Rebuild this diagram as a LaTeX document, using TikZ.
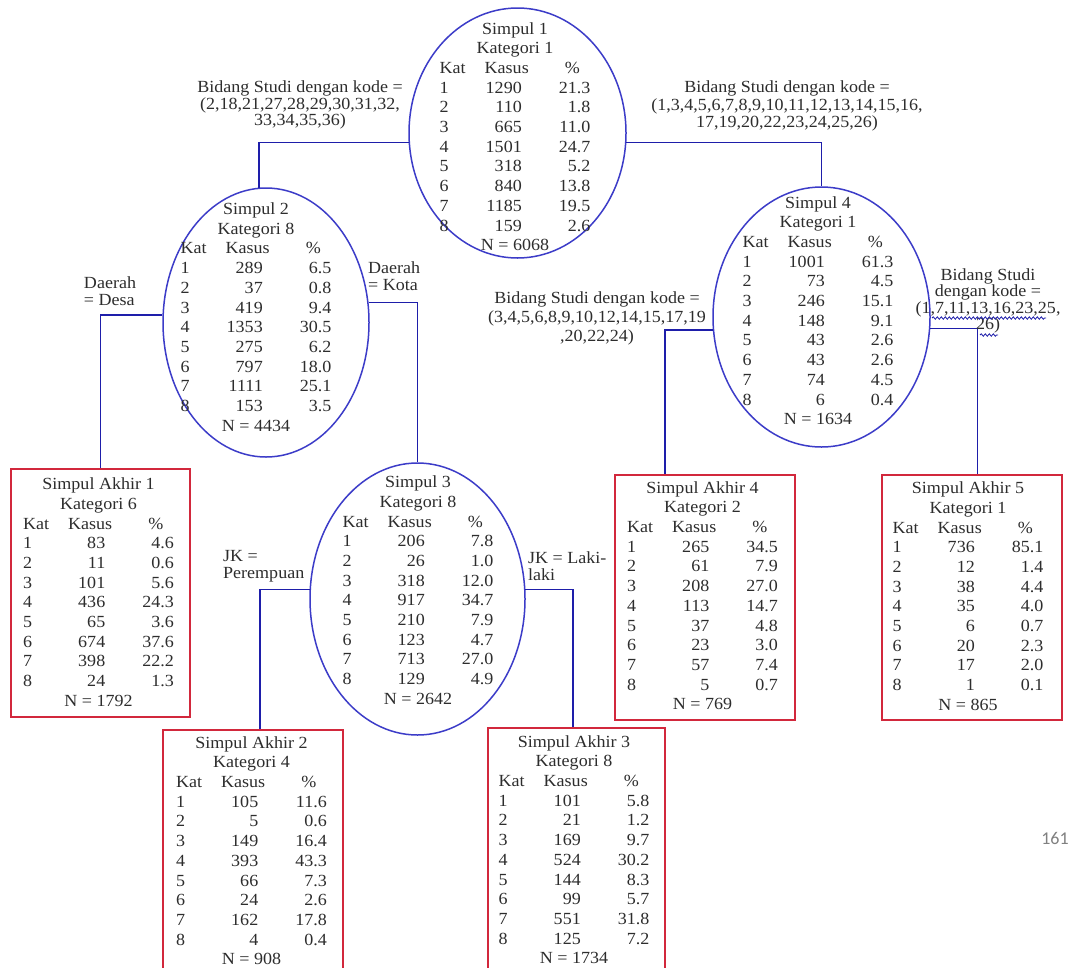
\documentclass[tikz,border=0pt]{standalone}
\usepackage{fontspec}
\setmainfont{Liberation Serif}[FakeStretch=1.06]
\newfontfamily\pgnumfont{Carlito}
\usetikzlibrary{calc,shapes.geometric,decorations.pathmorphing}
\definecolor{ellblue}{RGB}{60,60,200}
\definecolor{lnblue}{RGB}{30,30,170}
\definecolor{boxred}{RGB}{210,40,60}
\definecolor{txt}{RGB}{45,45,45}
\newcommand{\stab}[4]{%
\begin{tabular}{@{}l@{\hspace{13pt}}r@{\hspace{37pt}}r@{}}
\multicolumn{3}{c}{#1}\\
\multicolumn{3}{c}{#2}\\
Kat & \multicolumn{1}{l@{\hspace{30pt}}}{Kasus} & \multicolumn{1}{l@{}}{\%}\\
#3
\multicolumn{3}{c}{N = #4}
\end{tabular}}
\begin{document}
\begin{tikzpicture}[x=1pt,y=-1pt,
  ell/.style={ellipse, draw=ellblue, line width=1.5pt, inner sep=0pt},
  leaf/.style={rectangle, draw=boxred, line width=1.6pt, inner sep=0pt},
  tbl/.style={font=\fontsize{17}{19.7}\selectfont, text=txt, inner sep=0pt},
  lbl/.style={font=\fontsize{17}{16.5}\selectfont, text=txt, inner sep=0pt, align=center},
  conn/.style={draw=lnblue, line width=1.7pt},
  squig/.style={lnblue, line width=0.8pt, decorate, decoration={snake, amplitude=1.2pt, segment length=4pt}}]
\useasboundingbox (0,0) rectangle (1086,967);
\clip (0,0) rectangle (1086,967);
\fill[white] (0,0) rectangle (1086,967);

% ellipses
\node[ell, minimum width=217, minimum height=250] (s1) at (517.5,133) {};
\node[ell, minimum width=206, minimum height=269] (s2) at (266,322.5) {};
\node[ell, minimum width=215, minimum height=272] (s3) at (417.5,599) {};
\node[ell, minimum width=217, minimum height=260] (s4) at (821.5,317) {};
% leaf boxes
\node[leaf, minimum width=179, minimum height=248] (a1) at (100.5,593) {};
\node[leaf, minimum width=180, minimum height=252] (a2) at (253,856) {};
\node[leaf, minimum width=177, minimum height=254] (a3) at (576.5,855) {};
\node[leaf, minimum width=180, minimum height=245] (a4) at (705,597.5) {};
\node[leaf, minimum width=180, minimum height=245] (a5) at (972,597.5) {};

% tables
\node[tbl] (t1) at (515,138.5) {\stab{Simpul 1}{Kategori 1}{1&1290&21.3\\2&110&1.8\\3&665&11.0\\4&1501&24.7\\5&318&5.2\\6&840&13.8\\7&1185&19.5\\8&159&2.6\\}{6068}};
\node[tbl] (t2) at (256,319) {\stab{Simpul 2}{Kategori 8}{1&289&6.5\\2&37&0.8\\3&419&9.4\\4&1353&30.5\\5&275&6.2\\6&797&18.0\\7&1111&25.1\\8&153&3.5\\}{4434}};
\node[tbl] (t3) at (418,592) {\stab{Simpul 3}{Kategori 8}{1&206&7.8\\2&26&1.0\\3&318&12.0\\4&917&34.7\\5&210&7.9\\6&123&4.7\\7&713&27.0\\8&129&4.9\\}{2642}};
\node[tbl] (t4) at (818,312.5) {\stab{Simpul 4}{Kategori 1}{1&1001&61.3\\2&73&4.5\\3&246&15.1\\4&148&9.1\\5&43&2.6\\6&43&2.6\\7&74&4.5\\8&6&0.4\\}{1634}};
\node[tbl] (ta1) at (98.5,594) {\stab{Simpul Akhir 1}{Kategori 6}{1&83&4.6\\2&11&0.6\\3&101&5.6\\4&436&24.3\\5&65&3.6\\6&674&37.6\\7&398&22.2\\8&24&1.3\\}{1792}};
\node[tbl] (ta2) at (251.5,852.5) {\stab{Simpul Akhir 2}{Kategori 4}{1&105&11.6\\2&5&0.6\\3&149&16.4\\4&393&43.3\\5&66&7.3\\6&24&2.6\\7&162&17.8\\8&4&0.4\\}{908}};
\node[tbl] (ta3) at (574,851.5) {\stab{Simpul Akhir 3}{Kategori 8}{1&101&5.8\\2&21&1.2\\3&169&9.7\\4&524&30.2\\5&144&8.3\\6&99&5.7\\7&551&31.8\\8&125&7.2\\}{1734}};
\node[tbl] (ta4) at (702.5,597.5) {\stab{Simpul Akhir 4}{Kategori 2}{1&265&34.5\\2&61&7.9\\3&208&27.0\\4&113&14.7\\5&37&4.8\\6&23&3.0\\7&57&7.4\\8&5&0.7\\}{769}};
\node[tbl] (ta5) at (968,598) {\stab{Simpul Akhir 5}{Kategori 1}{1&736&85.1\\2&12&1.4\\3&38&4.4\\4&35&4.0\\5&6&0.7\\6&20&2.3\\7&17&2.0\\8&1&0.1\\}{865}};

% connectors
\draw[conn] (s1.185) -| (s2.93);
\draw[conn] (s1.355) -| (s4.north);
\draw[conn] (s2.176) -| (a1.north);
\draw[conn] (s2.11) -| (s3.north);
\draw[conn] (s3.175) -| ($(a2.north west)!0.54!(a2.north east)$);
\draw[conn] (s3.5) -| ($(a3.north west)!0.48!(a3.north east)$);
\draw[conn] (s4.187) -| ($(a4.north west)!0.28!(a4.north east)$);
\draw[conn] (s4.354) -| ($(a5.north west)!0.53!(a5.north east)$);

% labels
\node[lbl] (l1) at (300,105) {Bidang Studi dengan kode =\\(2,18,21,27,28,29,30,31,32,\\33,34,35,36)};
\node[lbl, font=\fontsize{17}{17.5}\selectfont] (l2) at (787,106) {Bidang Studi dengan kode =\\(1,3,4,5,6,7,8,9,10,11,12,13,14,15,16,\\17,19,20,22,23,24,25,26)};
\node[lbl, align=left] (l3) at (110,291) {Daerah\\= Desa};
\node[lbl, align=left, anchor=west] (l4) at (368,276) {Daerah\\= Kota};
\node[lbl, font=\fontsize{17}{19}\selectfont] (l5) at (597,318) {Bidang Studi dengan kode =\\(3,4,5,6,8,9,10,12,14,15,17,19\\,20,22,24)};
\node[lbl] (l6) at (988,301) {Bidang Studi\\dengan kode =\\(1,7,11,13,16,23,25,\\26)};
\node[lbl, align=left, anchor=west] (l7) at (223,566) {JK =\\Perempuan};
\node[lbl, align=left, anchor=west] (l8) at (528,566) {JK = Laki-\\laki};
\draw[squig] (932,318) -- (1046,318);
\draw[squig] (980,335) -- (998,335);

\node[font=\pgnumfont\fontsize{18}{18}\selectfont, text=gray, inner sep=0pt] (pg) at (1055,838) {161};
\end{tikzpicture}
\end{document}
